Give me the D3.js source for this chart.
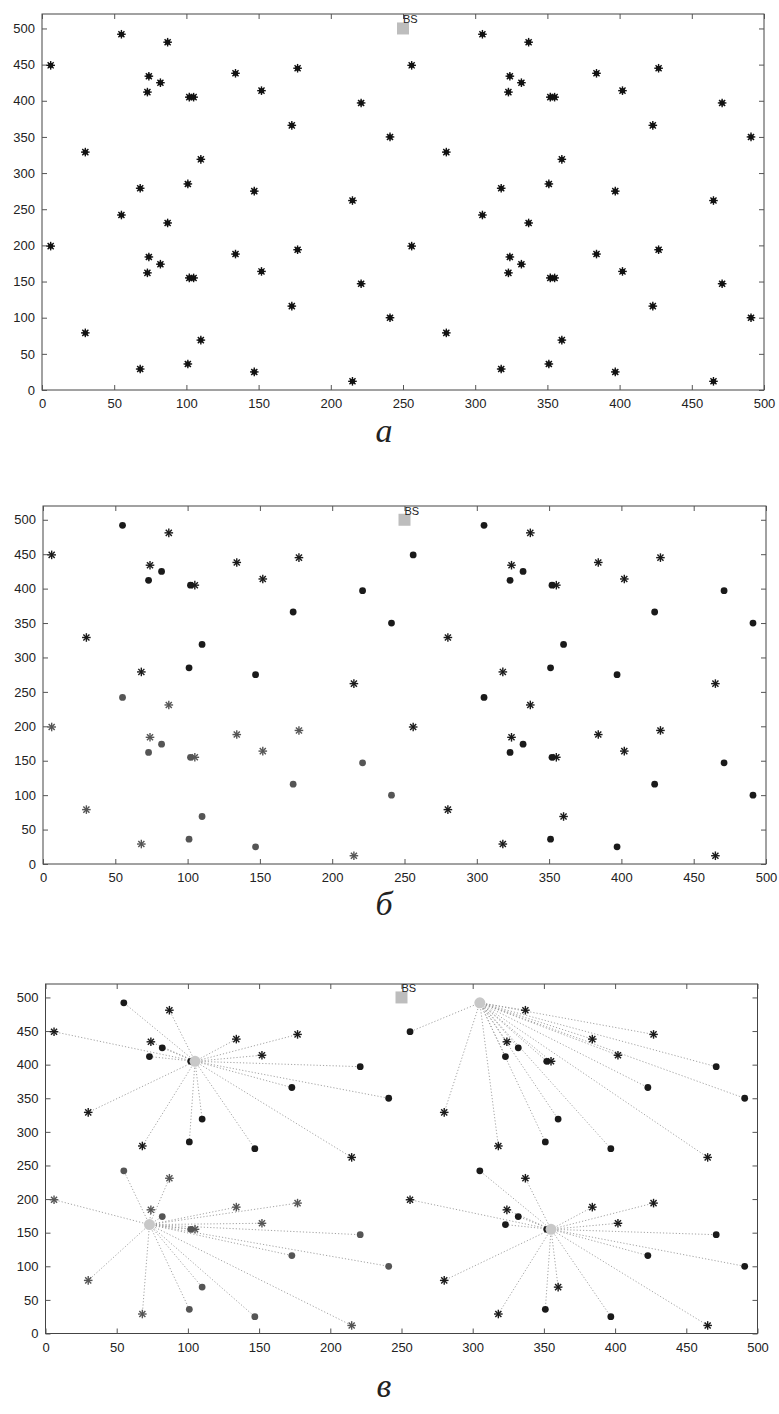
<!DOCTYPE html>
<html>
<head>
<meta charset="utf-8">
<script src="https://cdn.jsdelivr.net/npm/d3@7"></script>
<style>
  body { margin: 0; background: #fff; }
  svg { display: block; }
  .tick text { font-family: "Liberation Sans", Arial, sans-serif; font-size: 13px; fill: #222; }
</style>
</head>
<body>
<div id="chart"></div>
<script>
// node coordinates (four quadrants)
const nodeX = [
  6, 55, 87, 74, 73, 82, 102, 105, 134, 152, 177, 173, 221, 241, 30, 110, 101, 68, 147, 215,
  256, 305, 337, 324, 323, 332, 352, 355, 384, 402, 427, 423, 471, 491, 280, 360, 351, 318, 397, 465,
  6, 55, 87, 74, 73, 82, 102, 105, 134, 152, 177, 173, 221, 241, 30, 110, 101, 68, 147, 215,
  256, 305, 337, 324, 323, 332, 352, 355, 384, 402, 427, 423, 471, 491, 280, 360, 351, 318, 397, 465
];
const nodeY = [
  449, 492, 481, 434, 412, 425, 405, 405, 438, 414, 445, 366, 397, 350, 329, 319, 285, 279, 275, 262,
  449, 492, 481, 434, 412, 425, 405, 405, 438, 414, 445, 366, 397, 350, 329, 319, 285, 279, 275, 262,
  199, 242, 231, 184, 162, 174, 155, 155, 188, 164, 194, 116, 147, 100, 79, 69, 36, 29, 25, 12,
  199, 242, 231, 184, 162, 174, 155, 155, 188, 164, 194, 116, 147, 100, 79, 69, 36, 29, 25, 12
];
// marker kind in panels б and в: d = dot, s = star
const nodeKind = [
  "s","d","s","s","d","d","d","s","s","s","s","d","d","d","s","d","d","s","d","s",
  "d","d","s","s","d","d","d","s","s","s","s","d","d","d","s","d","d","s","d","s",
  "s","d","s","s","d","d","d","s","s","s","s","d","d","d","s","d","d","s","d","s",
  "s","d","s","s","d","d","d","s","s","s","s","d","d","d","s","s","d","s","d","s"
];
// cluster heads in panel в
const headX = [105, 305, 73, 355];
const headY = [405, 492, 162, 155];
const bs = { x: 250, y: 500, label: "BS" };
const xTicks = [0, 50, 100, 150, 200, 250, 300, 350, 400, 450, 500];
const yTicks = [0, 50, 100, 150, 200, 250, 300, 350, 400, 450, 500];
const captions = ["а", "б", "в"];

const nodes = nodeX.map((x, i) => ({ x, y: nodeY[i], kind: nodeKind[i] }));
const clusterOf = d => (d.y >= 250 ? 0 : 2) + (d.x >= 250 ? 1 : 0);
const isHead = d => {
  const c = clusterOf(d);
  return Math.abs(d.x - headX[c]) < 1 && Math.abs(d.y - headY[c]) < 1;
};

const W = 779, H = 1414;
const svg = d3.select("#chart").append("svg").attr("width", W).attr("height", H);

const panels = [
  { left: 42, right: 764, top: 14, bottom: 390, capY: 442, mode: "a" },
  { left: 43, right: 766, top: 506, bottom: 864, capY: 915, mode: "b" },
  { left: 45.5, right: 757.5, top: 984, bottom: 1333.5, capY: 1397, mode: "c" }
];

function star(g, x, y, r, color, sw) {
  for (let k = 0; k < 4; k++) {
    const a = k * Math.PI / 4;
    g.append("line")
      .attr("x1", x - r * Math.cos(a)).attr("y1", y - r * Math.sin(a))
      .attr("x2", x + r * Math.cos(a)).attr("y2", y + r * Math.sin(a))
      .attr("stroke", color).attr("stroke-width", sw);
  }
}

panels.forEach((p, pi) => {
  const x = d3.scaleLinear().domain([0, 500]).range([p.left, p.right]);
  const y = d3.scaleLinear().domain([0, 520]).range([p.bottom, p.top]);
  const g = svg.append("g");

  // box + ticks (inward, MATLAB style)
  g.append("rect")
    .attr("x", p.left).attr("y", p.top)
    .attr("width", p.right - p.left).attr("height", p.bottom - p.top)
    .attr("fill", "none").attr("stroke", "#444").attr("stroke-width", 1);

  const bottomAx = g.append("g").attr("transform", `translate(0,${p.bottom})`)
    .call(d3.axisBottom(x).tickValues(xTicks).tickSize(-5).tickPadding(9));
  const leftAx = g.append("g").attr("transform", `translate(${p.left},0)`)
    .call(d3.axisLeft(y).tickValues(yTicks).tickSize(-5).tickPadding(7));
  const topAx = g.append("g").attr("transform", `translate(0,${p.top})`)
    .call(d3.axisTop(x).tickValues(xTicks).tickSize(-5).tickFormat(""));
  const rightAx = g.append("g").attr("transform", `translate(${p.right},0)`)
    .call(d3.axisRight(y).tickValues(yTicks).tickSize(-5).tickFormat(""));
  [bottomAx, leftAx, topAx, rightAx].forEach(a => {
    a.select(".domain").remove();
    a.selectAll(".tick line").attr("stroke", "#555");
  });

  // links in panel в
  if (p.mode === "c") {
    nodes.forEach(d => {
      if (isHead(d)) return;
      const c = clusterOf(d);
      g.append("line")
        .attr("x1", x(headX[c])).attr("y1", y(headY[c]))
        .attr("x2", x(d.x)).attr("y2", y(d.y))
        .attr("stroke", "#999").attr("stroke-width", 0.9)
        .attr("stroke-dasharray", "1.2,2");
    });
  }

  // nodes
  nodes.forEach(d => {
    if (p.mode === "c" && isHead(d)) return;
    const cx = x(d.x), cy = y(d.y);
    if (p.mode === "a") {
      star(g, cx, cy, 4.3, "#111", 1.4);
      g.append("circle").attr("cx", cx).attr("cy", cy).attr("r", 2.6).attr("fill", "#111");
      return;
    }
    const color = clusterOf(d) === 2 ? "#555" : "#1a1a1a";
    if (d.kind === "d") {
      g.append("circle").attr("cx", cx).attr("cy", cy).attr("r", 3.4).attr("fill", color);
    } else {
      star(g, cx, cy, 4.3, color, 1.4);
    }
  });

  // cluster heads
  if (p.mode === "c") {
    headX.forEach((hx, i) => {
      g.append("circle").attr("cx", x(hx)).attr("cy", y(headY[i])).attr("r", 5.5)
        .attr("fill", "#c8c8c8");
    });
  }

  // base station
  g.append("rect")
    .attr("x", x(bs.x) - 6).attr("y", y(bs.y) - 6)
    .attr("width", 12).attr("height", 12)
    .attr("fill", "#bdbdbd");
  g.append("text")
    .attr("x", x(bs.x)).attr("y", y(bs.y) - 5)
    .attr("font-family", "Liberation Sans, Arial, sans-serif")
    .attr("font-size", 11).attr("fill", "#222")
    .text(bs.label);

  // caption
  svg.append("text")
    .attr("x", 384).attr("y", p.capY)
    .attr("text-anchor", "middle")
    .attr("font-family", "Liberation Serif, Times New Roman, serif")
    .attr("font-style", "italic")
    .attr("font-size", 34).attr("fill", "#222")
    .text(captions[pi]);
});
</script>
</body>
</html>
